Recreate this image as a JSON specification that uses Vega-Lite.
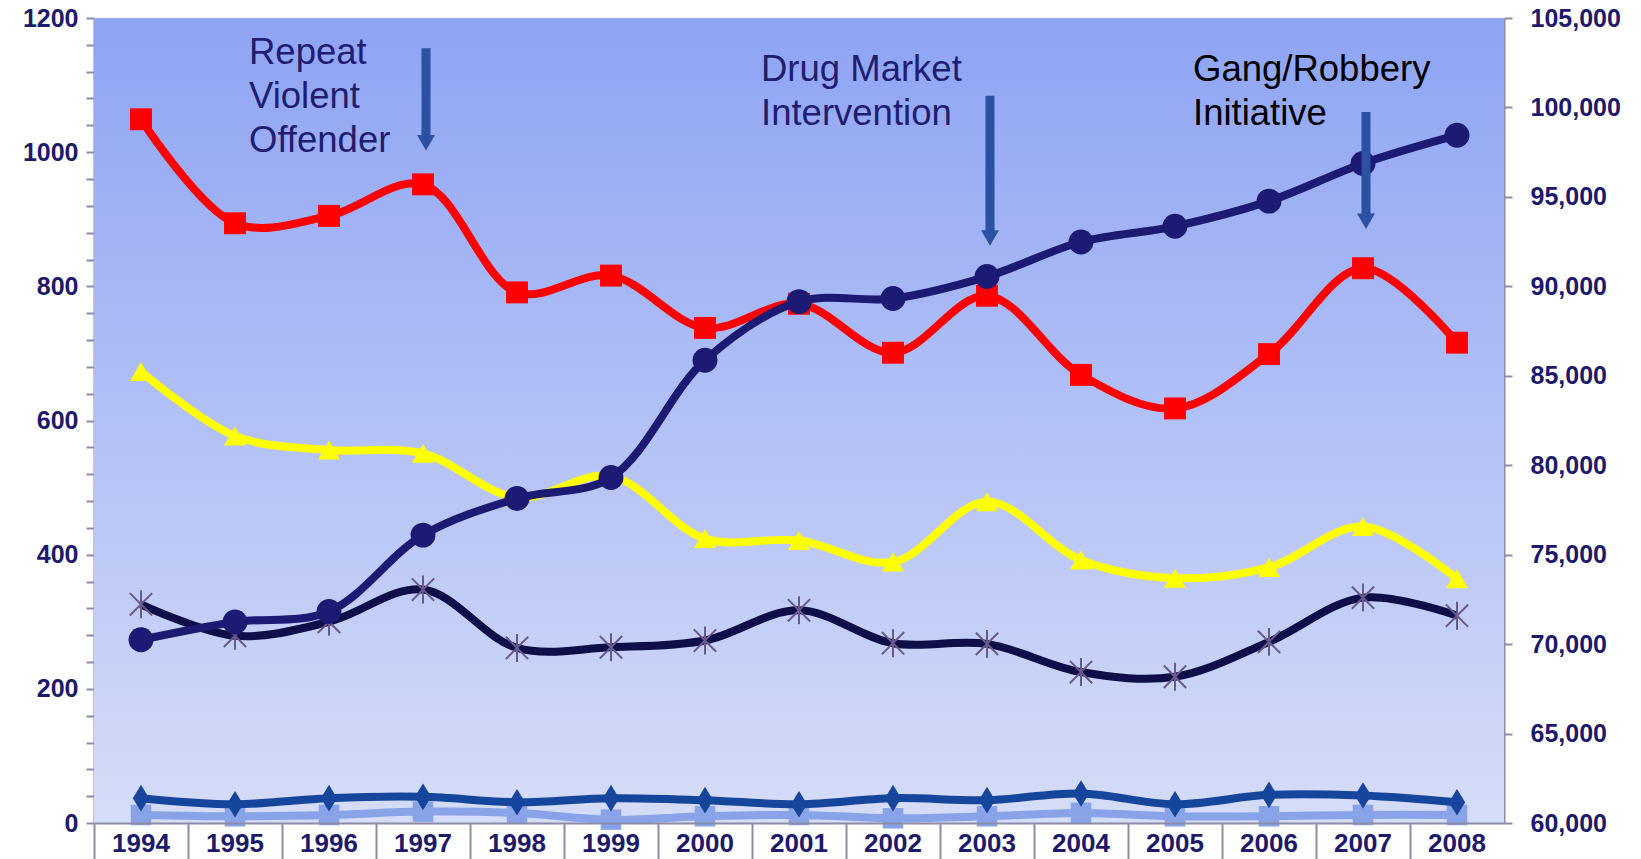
{
  "$schema": "https://vega.github.io/schema/vega-lite/v6.json",
  "autosize": "none",
  "width": 1410,
  "height": 805,
  "padding": {"left": 94, "top": 18, "right": 137, "bottom": 36},
  "background": "white",
  "config": {
    "view": {"stroke": null},
    "font": "Liberation Sans",
    "axis": {"labelFont": "Liberation Sans", "labelFontWeight": "bold", "labelFontSize": 25, "labelColor": "#1e1a6b", "domainColor": "#8c8ca6", "tickColor": "#8c8ca6", "domainWidth": 2, "tickWidth": 2, "grid": false, "title": null}
  },
  "datasets": {
    "left": [
      {"year": "1994", "series": "A", "value": 1049}, {"year": "1995", "series": "A", "value": 894}, {"year": "1996", "series": "A", "value": 905}, {"year": "1997", "series": "A", "value": 952}, {"year": "1998", "series": "A", "value": 791}, {"year": "1999", "series": "A", "value": 816}, {"year": "2000", "series": "A", "value": 738}, {"year": "2001", "series": "A", "value": 774}, {"year": "2002", "series": "A", "value": 701}, {"year": "2003", "series": "A", "value": 786}, {"year": "2004", "series": "A", "value": 668}, {"year": "2005", "series": "A", "value": 618}, {"year": "2006", "series": "A", "value": 699}, {"year": "2007", "series": "A", "value": 827}, {"year": "2008", "series": "A", "value": 716},
      {"year": "1994", "series": "B", "value": 673}, {"year": "1995", "series": "B", "value": 577}, {"year": "1996", "series": "B", "value": 556}, {"year": "1997", "series": "B", "value": 551}, {"year": "1998", "series": "B", "value": 485}, {"year": "1999", "series": "B", "value": 517}, {"year": "2000", "series": "B", "value": 424}, {"year": "2001", "series": "B", "value": 421}, {"year": "2002", "series": "B", "value": 389}, {"year": "2003", "series": "B", "value": 479}, {"year": "2004", "series": "B", "value": 392}, {"year": "2005", "series": "B", "value": 365}, {"year": "2006", "series": "B", "value": 381}, {"year": "2007", "series": "B", "value": 442}, {"year": "2008", "series": "B", "value": 364},
      {"year": "1994", "series": "C", "value": 326}, {"year": "1995", "series": "C", "value": 279}, {"year": "1996", "series": "C", "value": 300}, {"year": "1997", "series": "C", "value": 348}, {"year": "1998", "series": "C", "value": 261}, {"year": "1999", "series": "C", "value": 262}, {"year": "2000", "series": "C", "value": 272}, {"year": "2001", "series": "C", "value": 317}, {"year": "2002", "series": "C", "value": 268}, {"year": "2003", "series": "C", "value": 267}, {"year": "2004", "series": "C", "value": 225}, {"year": "2005", "series": "C", "value": 218}, {"year": "2006", "series": "C", "value": 270}, {"year": "2007", "series": "C", "value": 336}, {"year": "2008", "series": "C", "value": 309},
      {"year": "1994", "series": "D", "value": 37}, {"year": "1995", "series": "D", "value": 28}, {"year": "1996", "series": "D", "value": 37}, {"year": "1997", "series": "D", "value": 39}, {"year": "1998", "series": "D", "value": 31}, {"year": "1999", "series": "D", "value": 37}, {"year": "2000", "series": "D", "value": 34}, {"year": "2001", "series": "D", "value": 28}, {"year": "2002", "series": "D", "value": 37}, {"year": "2003", "series": "D", "value": 34}, {"year": "2004", "series": "D", "value": 44}, {"year": "2005", "series": "D", "value": 28}, {"year": "2006", "series": "D", "value": 42}, {"year": "2007", "series": "D", "value": 41}, {"year": "2008", "series": "D", "value": 31},
      {"year": "1994", "series": "E", "value": 12}, {"year": "1995", "series": "E", "value": 10}, {"year": "1996", "series": "E", "value": 12}, {"year": "1997", "series": "E", "value": 17}, {"year": "1998", "series": "E", "value": 15}, {"year": "1999", "series": "E", "value": 5}, {"year": "2000", "series": "E", "value": 10}, {"year": "2001", "series": "E", "value": 12}, {"year": "2002", "series": "E", "value": 7}, {"year": "2003", "series": "E", "value": 10}, {"year": "2004", "series": "E", "value": 15}, {"year": "2005", "series": "E", "value": 10}, {"year": "2006", "series": "E", "value": 10}, {"year": "2007", "series": "E", "value": 12}, {"year": "2008", "series": "E", "value": 12}
    ],
    "right": [
      {"year": "1994", "value": 70241}, {"year": "1995", "value": 71236}, {"year": "1996", "value": 71821}, {"year": "1997", "value": 76093}, {"year": "1998", "value": 78141}, {"year": "1999", "value": 79312}, {"year": "2000", "value": 85866}, {"year": "2001", "value": 89143}, {"year": "2002", "value": 89318}, {"year": "2003", "value": 90547}, {"year": "2004", "value": 92478}, {"year": "2005", "value": 93356}, {"year": "2006", "value": 94761}, {"year": "2007", "value": 96868}, {"year": "2008", "value": 98448}
    ],
    "notes": [
      {"year": "1995", "y": 1131, "text": ["Repeat", "Violent", "Offender"], "key": "r"},
      {"year": "2000", "y": 1106, "text": ["Drug Market", "Intervention"], "key": "d"},
      {"year": "2005", "y": 1106, "text": ["Gang/Robbery", "Initiative"], "key": "g"}
    ],
    "arrows": [
      {"year": "1997", "top": 1155, "shaftEnd": 1022, "head": 1014},
      {"year": "2003", "top": 1084, "shaftEnd": 878, "head": 872},
      {"year": "2007", "top": 1060, "shaftEnd": 904, "head": 897}
    ]
  },
  "encoding": {
    "x": {
      "field": "year", "type": "ordinal",
      "scale": {"type": "band", "paddingInner": 0, "paddingOuter": 0,
        "domain": ["1994","1995","1996","1997","1998","1999","2000","2001","2002","2003","2004","2005","2006","2007","2008"]},
      "axis": {"bandPosition": 0, "tickSize": 37, "labelPadding": -30, "labelAngle": 0, "labelAlign": "center", "labelBaseline": "top", "labelOverlap": false, "domainWidth": 2,
        "labelFontSize": 26}
    }
  },
  "layer": [
    {
      "data": {"name": "left"},
      "encoding": {
        "y": {"field": "value", "type": "quantitative", "scale": {"domain": [0, 1200], "nice": false, "zero": true},
          "axis": {"values": [0,40,80,120,160,200,240,280,320,360,400,440,480,520,560,600,640,680,720,760,800,840,880,920,960,1000,1040,1080,1120,1160,1200],
            "labelExpr": "datum.value % 200 === 0 ? datum.value : ''", "tickSize": 8, "labelPadding": 8}}
      },
      "layer": [
        {
          "data": {"name": "right"},
          "mark": {"type": "rect", "fill": {"gradient": "linear", "x1": 0, "y1": 0, "x2": 0, "y2": 1,
            "stops": [{"offset": 0, "color": "#8ea4f4"}, {"offset": 1, "color": "#d6ddf8"}]}, "stroke": null},
          "encoding": {"y": {"datum": 1200, "type": "quantitative"}, "y2": {"datum": 0}}
        },
        {
          "transform": [{"filter": "datum.series === 'E'"}],
          "layer": [
            {"mark": {"type": "line", "interpolate": "catmull-rom", "strokeWidth": 8, "color": "#88a3e8"}, "encoding": {}},
            {"mark": {"type": "point", "shape": "square", "filled": true, "size": 420, "color": "#88a3e8", "opacity": 1}, "encoding": {}}
          ]
        },
        {
          "transform": [{"filter": "datum.series === 'D'"}],
          "layer": [
            {"mark": {"type": "line", "interpolate": "catmull-rom", "strokeWidth": 8, "color": "#16459c"}, "encoding": {}},
            {"mark": {"type": "point", "shape": "M0,-1.3L0.8,0L0,1.3L-0.8,0Z", "filled": true, "size": 420, "color": "#16459c", "opacity": 1}, "encoding": {}}
          ]
        },
        {
          "transform": [{"filter": "datum.series === 'C'"}],
          "layer": [
            {"mark": {"type": "line", "interpolate": "catmull-rom", "strokeWidth": 8, "color": "#0f0e48"}, "encoding": {}},
            {"mark": {"type": "point", "shape": "M-1,-1L1,1M-1,1L1,-1M0,-1.25L0,1.25", "filled": false, "size": 500, "stroke": "#6a5a8c", "strokeWidth": 2, "opacity": 1}, "encoding": {}}
          ]
        },
        {
          "transform": [{"filter": "datum.series === 'B'"}],
          "layer": [
            {"mark": {"type": "line", "interpolate": "catmull-rom", "strokeWidth": 8, "color": "#ffff00"}, "encoding": {}},
            {"mark": {"type": "point", "shape": "triangle-up", "filled": true, "size": 480, "color": "#ffff00", "opacity": 1}, "encoding": {}}
          ]
        },
        {
          "transform": [{"filter": "datum.series === 'A'"}],
          "layer": [
            {"mark": {"type": "line", "interpolate": "catmull-rom", "strokeWidth": 8, "color": "#ff0000"}, "encoding": {}},
            {"mark": {"type": "point", "shape": "square", "filled": true, "size": 480, "color": "#ff0000", "opacity": 1}, "encoding": {}}
          ]
        }
      ]
    },
    {
      "data": {"name": "right"},
      "encoding": {
        "y": {"field": "value", "type": "quantitative", "scale": {"domain": [60000, 105000], "nice": false, "zero": false},
          "axis": {"orient": "right", "values": [60000,65000,70000,75000,80000,85000,90000,95000,100000,105000], "format": ",d", "tickSize": 8, "labelPadding": 18}}
      },
      "layer": [
        {"mark": {"type": "line", "interpolate": "catmull-rom", "strokeWidth": 8, "color": "#1c1a72"}, "encoding": {}},
        {"mark": {"type": "point", "shape": "circle", "filled": true, "size": 620, "color": "#1c1a72", "opacity": 1}, "encoding": {}}
      ]
    },
    {
      "encoding": {
        "y": {"field": "y", "type": "quantitative", "scale": {"domain": [0, 1200], "nice": false}, "axis": null}
      },
      "layer": [
        {
          "data": {"name": "arrows"},
          "mark": {"type": "rule", "strokeWidth": 9, "color": "#2a51a2", "xOffset": 3},
          "encoding": {
            "y": {"field": "top", "type": "quantitative"},
            "y2": {"field": "shaftEnd"}
          }
        },
        {
          "data": {"name": "arrows"},
          "mark": {"type": "point", "shape": "triangle-down", "filled": true, "size": 320, "color": "#2a51a2", "opacity": 1, "xOffset": 3},
          "encoding": {
            "y": {"field": "head", "type": "quantitative"}
          }
        },
        {
          "data": {"name": "notes"},
          "transform": [{"filter": "datum.key === 'r'"}],
          "mark": {"type": "text", "align": "left", "baseline": "alphabetic", "fontSize": 36.5, "lineHeight": 44, "font": "Liberation Sans", "dx": 14, "color": "#221d70"},
          "encoding": {"text": {"field": "text"}}
        },
        {
          "data": {"name": "notes"},
          "transform": [{"filter": "datum.key === 'd'"}],
          "mark": {"type": "text", "align": "left", "baseline": "alphabetic", "fontSize": 36.5, "lineHeight": 44, "font": "Liberation Sans", "dx": 56, "color": "#221d70"},
          "encoding": {"text": {"field": "text"}}
        },
        {
          "data": {"name": "notes"},
          "transform": [{"filter": "datum.key === 'g'"}],
          "mark": {"type": "text", "align": "left", "baseline": "alphabetic", "fontSize": 36.5, "lineHeight": 44, "font": "Liberation Sans", "dx": 18, "color": "#000000"},
          "encoding": {"text": {"field": "text"}}
        }
      ]
    }
  ],
  "resolve": {"scale": {"y": "independent"}}
}
